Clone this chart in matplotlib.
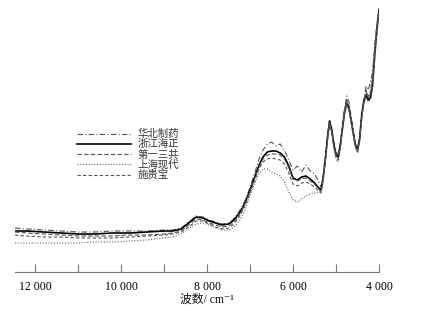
import matplotlib
matplotlib.use("Agg")
import matplotlib.pyplot as plt
from matplotlib.ticker import FixedLocator, FuncFormatter

# wavenumber grid (cm^-1)
wavenumber = [12470, 12200, 11800, 11400, 11000, 10600, 10200, 9800, 9400, 9000,
              8800, 8600, 8400, 8250, 8100, 7950, 7800, 7650, 7500, 7400,
              7300, 7200, 7100, 7000, 6900, 6800, 6700, 6600, 6500, 6400,
              6300, 6200, 6100, 6000, 5900, 5800, 5700, 5600, 5500, 5400,
              5350, 5300, 5250, 5200, 5150, 5100, 5050, 5000, 4950, 4900,
              4850, 4800, 4750, 4700, 4650, 4600, 4550, 4500, 4450, 4400,
              4350, 4300, 4250, 4200, 4150, 4100, 4050, 4000]

huabei = [0.44, 0.43, 0.42, 0.41, 0.40, 0.40, 0.41, 0.41, 0.41, 0.42,
          0.42, 0.44, 0.51, 0.56, 0.55, 0.52, 0.50, 0.48, 0.49, 0.52,
          0.58, 0.64, 0.73, 0.85, 0.98, 1.12, 1.22, 1.28, 1.30, 1.26,
          1.28, 1.22, 1.12, 1.02, 1.06, 1.00, 1.07, 1.01, 0.98, 0.90,
          0.85, 0.96, 1.14, 1.36, 1.51, 1.44, 1.30, 1.20, 1.17, 1.28,
          1.46, 1.64, 1.76, 1.70, 1.56, 1.42, 1.29, 1.22, 1.32, 1.56,
          1.72, 1.86, 1.82, 1.90, 2.00, 2.26, 2.48, 2.64]

zhejiang = [0.41, 0.41, 0.40, 0.39, 0.38, 0.38, 0.39, 0.39, 0.40, 0.41,
            0.41, 0.43, 0.50, 0.55, 0.54, 0.51, 0.49, 0.47, 0.48, 0.51,
            0.56, 0.62, 0.71, 0.82, 0.94, 1.06, 1.15, 1.20, 1.21, 1.21,
            1.19, 1.15, 1.06, 0.94, 0.92, 0.95, 0.96, 0.93, 0.89, 0.84,
            0.82, 0.94, 1.12, 1.34, 1.51, 1.42, 1.27, 1.17, 1.15, 1.27,
            1.44, 1.60, 1.69, 1.64, 1.52, 1.39, 1.27, 1.22, 1.34, 1.58,
            1.72, 1.77, 1.72, 1.74, 1.87, 2.17, 2.42, 2.62]

daiichi = [0.40, 0.39, 0.38, 0.37, 0.36, 0.36, 0.36, 0.37, 0.37, 0.38,
           0.39, 0.41, 0.48, 0.53, 0.52, 0.49, 0.47, 0.45, 0.46, 0.49,
           0.54, 0.61, 0.70, 0.81, 0.93, 1.04, 1.13, 1.17, 1.18, 1.18,
           1.17, 1.13, 1.04, 0.93, 0.91, 0.93, 0.94, 0.91, 0.88, 0.83,
           0.80, 0.93, 1.12, 1.33, 1.49, 1.41, 1.26, 1.16, 1.14, 1.26,
           1.45, 1.62, 1.72, 1.67, 1.54, 1.40, 1.27, 1.21, 1.33, 1.57,
           1.70, 1.80, 1.74, 1.78, 1.92, 2.20, 2.44, 2.60]

shanghai = [0.29, 0.29, 0.29, 0.29, 0.29, 0.30, 0.30, 0.31, 0.32, 0.34,
            0.35, 0.38, 0.44, 0.48, 0.49, 0.47, 0.44, 0.42, 0.42, 0.44,
            0.48, 0.55, 0.64, 0.76, 0.88, 0.98, 1.03, 1.03, 1.00, 0.98,
            0.96, 0.90, 0.80, 0.72, 0.70, 0.73, 0.76, 0.78, 0.79, 0.80,
            0.81, 0.92, 1.10, 1.32, 1.48, 1.40, 1.24, 1.13, 1.10, 1.22,
            1.42, 1.58, 1.66, 1.62, 1.50, 1.36, 1.24, 1.19, 1.30, 1.54,
            1.68, 1.74, 1.70, 1.72, 1.84, 2.12, 2.38, 2.58]

squibb = [0.37, 0.36, 0.35, 0.35, 0.34, 0.34, 0.34, 0.35, 0.36, 0.37,
          0.38, 0.40, 0.46, 0.51, 0.51, 0.48, 0.45, 0.43, 0.44, 0.47,
          0.52, 0.59, 0.68, 0.79, 0.91, 1.02, 1.10, 1.13, 1.14, 1.13,
          1.12, 1.08, 0.99, 0.88, 0.86, 0.89, 0.90, 0.88, 0.85, 0.81,
          0.79, 0.91, 1.10, 1.31, 1.47, 1.39, 1.25, 1.15, 1.12, 1.24,
          1.43, 1.60, 1.70, 1.66, 1.52, 1.38, 1.26, 1.20, 1.31, 1.55,
          1.70, 1.82, 1.76, 1.80, 1.94, 2.22, 2.46, 2.63]

labels = ["华北制药", "浙江海正", "第一三共", "上海现代", "施贵宝"]
tick_values = [12000, 10000, 8000, 6000, 4000]

fig = plt.figure(figsize=(4.26, 3.18), dpi=100)
ax = fig.add_axes([15 / 426, 46 / 318, 364 / 426, 267 / 318])

series = [huabei, zhejiang, daiichi, shanghai, squibb]
styles = [
    dict(color="#555555", lw=0.8, ls=(0, (5, 2, 1, 2))),
    dict(color="#000000", lw=1.2, ls="-"),
    dict(color="#555555", lw=0.8, ls=(0, (4, 2))),
    dict(color="#666666", lw=0.8, ls=(0, (1, 1.5))),
    dict(color="#555555", lw=0.8, ls=(0, (3, 2))),
]
for ys, lab, st in zip(series, labels, styles):
    ax.plot(wavenumber, ys, label=lab, **st)

ax.set_xlim(12470, 4000)
ax.set_ylim(0, 2.67)
for s in ["top", "right", "left"]:
    ax.spines[s].set_visible(False)
ax.spines["bottom"].set_color("#777777")
ax.spines["bottom"].set_linewidth(0.8)
ax.set_yticks([])

ax.xaxis.set_major_locator(FixedLocator(tick_values))
ax.xaxis.set_minor_locator(FixedLocator([11000, 9000, 7000, 5000]))
ax.xaxis.set_major_formatter(FuncFormatter(lambda v, p: f"{int(v):,}".replace(",", " ")))
ax.tick_params(axis="x", which="both", direction="in", length=6, width=0.8,
               color="#777777", pad=6.5)
for t in ax.get_xticklabels():
    t.set_fontfamily("Liberation Serif")
    t.set_fontsize(8.5)

fig.text(207 / 426, 1 - 300 / 318, "波数/ cm⁻¹",
         family=["Liberation Serif", "Noto Sans CJK SC", "DejaVu Serif"],
         fontsize=8.5, ha="center", va="center", color="#111111")

leg = fig.legend(loc="upper left", bbox_to_anchor=(72 / 426, 1 - 124 / 318),
                 frameon=False, handlelength=5.2, handletextpad=0.6,
                 labelspacing=0.0, borderpad=0.0,
                 prop={"family": ["Noto Sans CJK SC", "DejaVu Sans"], "size": 7.5})
for t in leg.get_texts():
    t.set_color("#333333")

fig.savefig("out.png", dpi=100)
